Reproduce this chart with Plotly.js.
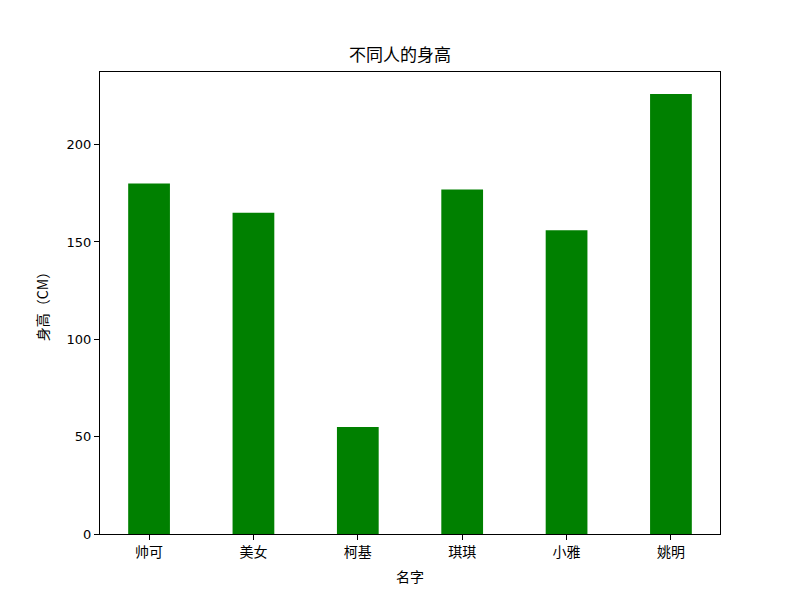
<!DOCTYPE html>
<html><head><meta charset="utf-8">
<script src="https://cdn.plot.ly/plotly-3.0.1.min.js"></script>
<style>body{margin:0;padding:0;background:#fff}</style>
</head><body>
<div id="chart" style="width:800px;height:600px"></div>
<script>
const names = ["帅可", "美女", "柯基", "琪琪", "小雅", "姚明"];
const heights = [180, 165, 55, 177, 156, 226];
const yTicks = [0, 50, 100, 150, 200];

const font = "Noto Sans CJK SC, sans-serif";
Plotly.newPlot("chart", [{
  type: "bar",
  x: names,
  y: heights,
  width: 0.4,
  marker: {color: "#008000"},
  hoverinfo: "x+y"
}], {
  width: 800, height: 600,
  margin: {l: 100, r: 80, t: 72, b: 66},
  paper_bgcolor: "#fff", plot_bgcolor: "#fff",
  font: {family: font, size: 14, color: "#000"},
  title: {text: "不同人的身高", font: {family: font, size: 17, color: "#000"}, x: 0.5, xanchor: "center", y: 0.908, yanchor: "middle"},
  xaxis: {
    type: "category",
    range: [-0.47, 5.47],
    showline: true, linecolor: "#000", linewidth: 1, mirror: true,
    ticks: "outside", ticklen: 5, tickcolor: "#000",
    showgrid: false, zeroline: false,
    tickfont: {family: font, size: 14},
    title: {text: "名字", font: {family: font, size: 14}, standoff: 12}
  },
  yaxis: {
    range: [0, 237.3],
    tickvals: yTicks,
    ticktext: yTicks.map(String),
    showline: true, linecolor: "#000", linewidth: 1, mirror: true,
    ticks: "outside", ticklen: 5, tickcolor: "#000",
    showgrid: false, zeroline: false,
    tickfont: {family: "DejaVu Sans, sans-serif", size: 13},
    title: {text: "身高（CM）", font: {family: font, size: 14}, standoff: 14}
  },
  showlegend: false
}, {displayModeBar: false, staticPlot: true});
</script>
</body></html>
